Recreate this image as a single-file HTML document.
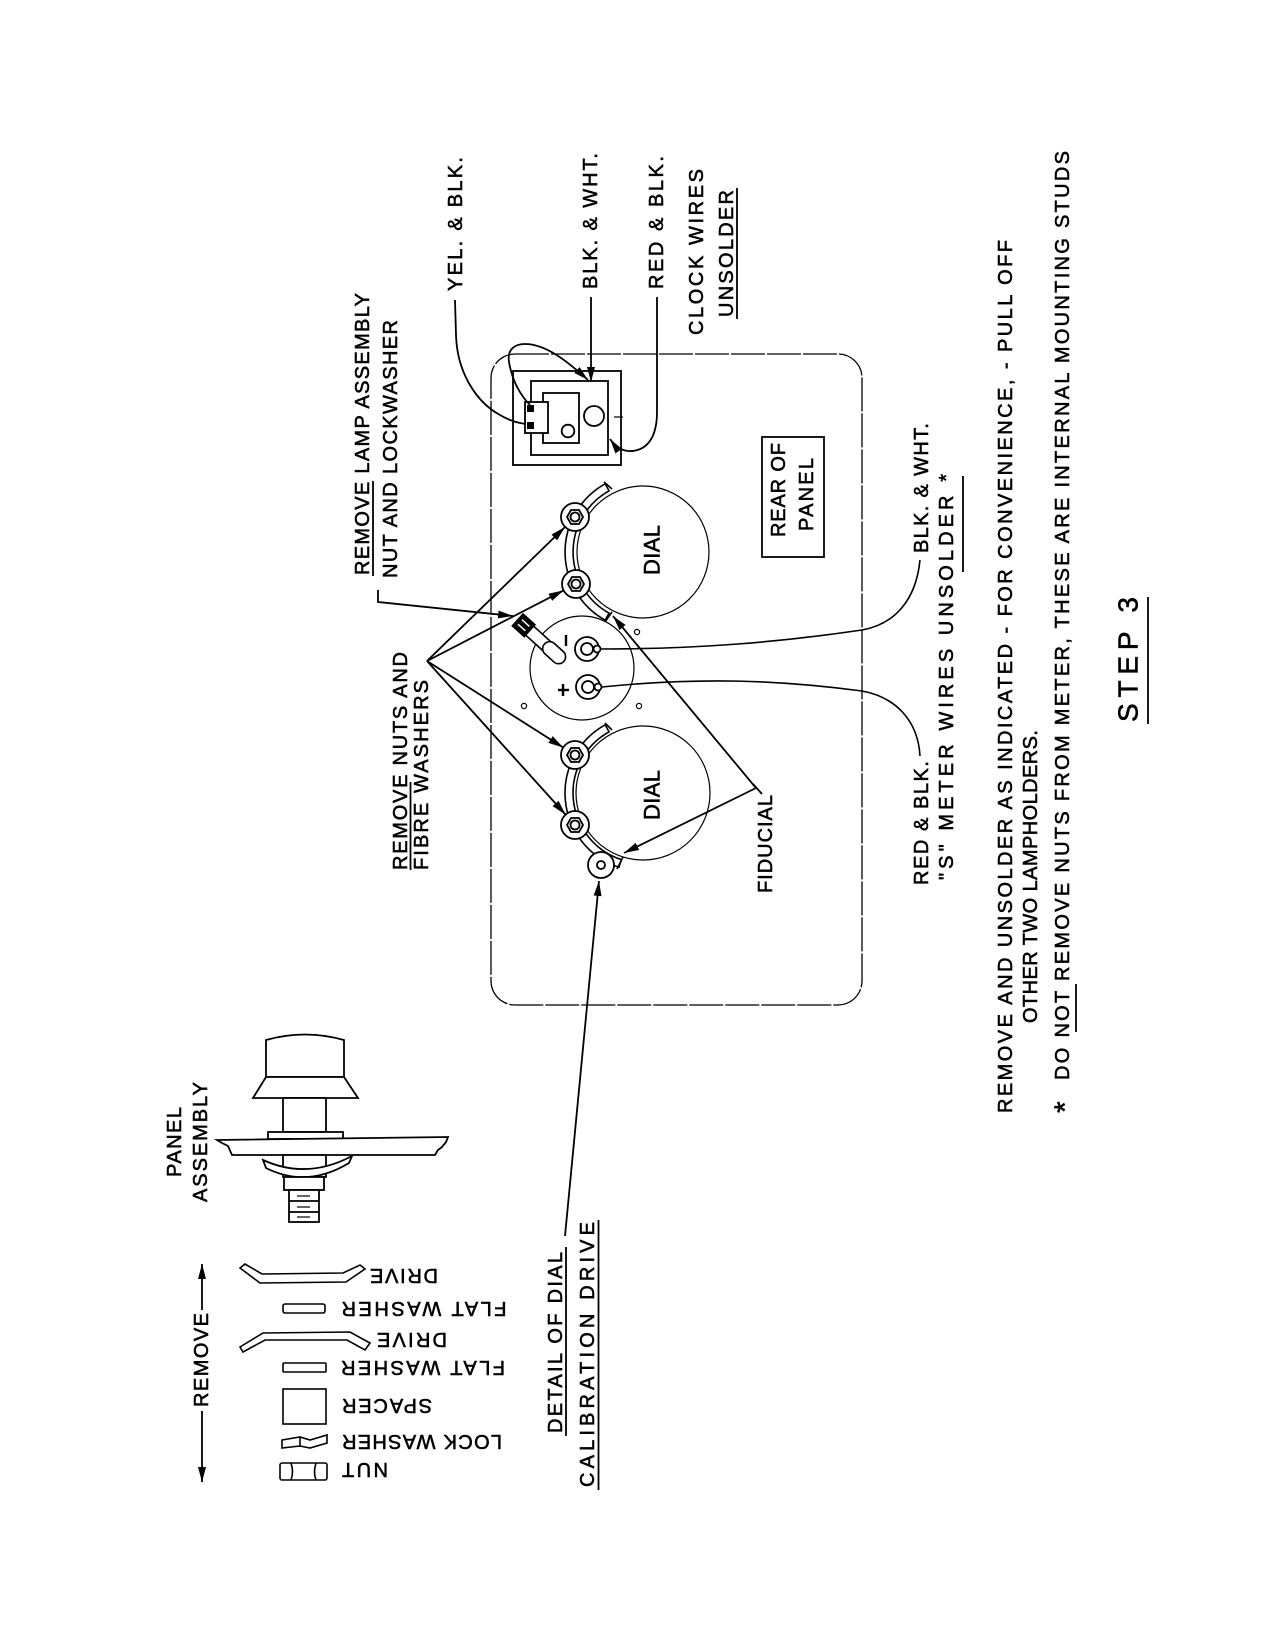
<!DOCTYPE html>
<html><head><meta charset="utf-8"><style>
html,body{margin:0;padding:0;background:#fff;}
svg{display:block;}
text{font-family:"Liberation Sans",sans-serif;fill:#000;stroke:#000;stroke-width:0.55;}
</style></head><body>
<svg width="1275" height="1650" viewBox="0 0 1275 1650" xmlns="http://www.w3.org/2000/svg">
<defs>
<marker id="a" markerWidth="16" markerHeight="10" refX="15" refY="5" orient="auto" markerUnits="userSpaceOnUse"><path d="M0,1 L15,5 L0,9 Z" fill="#000"/></marker>
</defs>
<rect width="1275" height="1650" fill="#fff"/>

<!-- Panel outline -->
<rect x="491" y="354" width="371" height="651" rx="24" ry="24" fill="none" stroke="#000" stroke-width="1.3" stroke-dasharray="34 2"/>

<g fill="none" stroke="#000" stroke-width="1.8">
<!-- Clock box -->
<rect x="513" y="371" width="108" height="94" fill="#fff"/>
<rect x="531" y="381" width="77" height="74"/>
<rect x="543" y="393" width="36" height="50"/>
<rect x="525" y="402" width="23" height="31" fill="#fff"/>
<circle cx="594" cy="416" r="10"/>
<circle cx="568" cy="431" r="6.3"/>
<line x1="614" y1="417" x2="623" y2="417" stroke-width="1.2"/>
</g>
<rect x="527" y="405" width="7" height="7" fill="#000"/>
<rect x="527" y="422" width="7" height="7" fill="#000"/>

<!-- clock wires -->
<g fill="none" stroke="#000" stroke-width="1.8">
<path d="M455,300 L456,335 C457,372 476,402 500,415 C510,421 518,423 526,424"/>
<path d="M530,405 C520,395 512,380 509,362 C507,349 515,344 525,344 C545,344 566,360 588,380" marker-end="url(#a)"/>
<line x1="591" y1="297" x2="591" y2="382" marker-end="url(#a)"/>
<path d="M657,297 L657,412 C657,440 645,452 628,451 C620,450 615,446 610,439" marker-end="url(#a)"/>
</g>

<!-- Dials -->
<g fill="none" stroke="#000" stroke-width="1.2">
<circle cx="643" cy="552" r="66"/>
<circle cx="643" cy="793" r="67"/>
<circle cx="582" cy="668" r="52"/>
</g>
<!-- drive bands -->
<g fill="#fff" stroke="#000" stroke-width="1.6">
<path d="M605.2,483.8 A78,78 0 0 0 605.2,620.2 L609.1,613.2 A70,70 0 0 1 609.1,490.8 Z"/>
<path d="M605.2,724.8 A78,78 0 0 0 618.9,867.2 L621.4,859.6 A70,70 0 0 1 609.1,731.8 Z"/>
<line x1="604" y1="482" x2="612" y2="489"/>
<line x1="605" y1="622" x2="612" y2="612"/>
<line x1="605" y1="723" x2="612" y2="730"/>
<line x1="617" y1="869" x2="623" y2="857"/>
</g>
<!-- nuts -->
<g fill="#fff" stroke="#000" stroke-width="1.8">
<g transform="translate(575,517)"><circle r="14"/><polygon points="8,0 4,7 -4,7 -8,0 -4,-7 4,-7"/><circle r="4.5"/></g>
<g transform="translate(576,584)"><circle r="14"/><polygon points="8,0 4,7 -4,7 -8,0 -4,-7 4,-7"/><circle r="4.5"/></g>
<g transform="translate(575,755)"><circle r="14"/><polygon points="8,0 4,7 -4,7 -8,0 -4,-7 4,-7"/><circle r="4.5"/></g>
<g transform="translate(575,825)"><circle r="14"/><polygon points="8,0 4,7 -4,7 -8,0 -4,-7 4,-7"/><circle r="4.5"/></g>
<circle cx="601" cy="865" r="13"/><circle cx="601" cy="865" r="4"/>
<!-- meter terminals -->
<circle cx="587" cy="649" r="12"/><circle cx="587" cy="649" r="6"/><circle cx="597" cy="649" r="3.5"/>
<circle cx="588" cy="687" r="12"/><circle cx="588" cy="687" r="6"/><circle cx="598" cy="687" r="3.5"/>
</g>
<g fill="none" stroke="#000" stroke-width="1.2">
<circle cx="637" cy="632" r="2.6"/>
<circle cx="524" cy="706" r="2.6"/>
<circle cx="639" cy="706" r="2.6"/>
</g>
<g stroke="#000" stroke-width="2.4">
<line x1="566" y1="635" x2="566" y2="646"/>
<line x1="558" y1="690" x2="569" y2="690"/><line x1="563" y1="684" x2="563" y2="696"/>
</g>
<!-- lamp holder -->
<g transform="translate(540,640) rotate(42)" stroke="#000" stroke-width="1.6">
<rect x="-30" y="-8" width="16" height="16" fill="#000"/>
<line x1="-27" y1="-3" x2="-17" y2="-3" stroke="#fff" stroke-width="1.5"/>
<line x1="-27" y1="3" x2="-17" y2="3" stroke="#fff" stroke-width="1.5"/>
<rect x="-14" y="-6" width="22" height="12" fill="#fff"/>
<rect x="6" y="-7" width="26" height="14" rx="7" fill="#fff"/>
</g>

<!-- meter wires -->
<g fill="none" stroke="#000" stroke-width="1.6">
<path d="M601,649 C700,649 780,642 862,630 C895,624 916,600 920,560"/>
<path d="M602,687 C700,677 780,680 862,691 C895,697 918,720 920,756"/>
</g>

<!-- leaders -->
<g fill="none" stroke="#000" stroke-width="1.8">
<line x1="427" y1="661" x2="565" y2="527" marker-end="url(#a)"/>
<line x1="427" y1="661" x2="563.6" y2="590.4" marker-end="url(#a)"/>
<line x1="427" y1="661" x2="563.2" y2="747.5" marker-end="url(#a)"/>
<line x1="427" y1="661" x2="565.6" y2="814.6" marker-end="url(#a)"/>
<polyline points="378,590 378,602 513,616" marker-end="url(#a)"/>
<line x1="756" y1="788" x2="613" y2="616" marker-end="url(#a)"/>
<line x1="756" y1="788" x2="624" y2="853" marker-end="url(#a)"/>
<line x1="753" y1="784" x2="762" y2="794"/>
<line x1="565" y1="1236" x2="599" y2="881" marker-end="url(#a)"/>
<line x1="202" y1="1310" x2="202" y2="1264" marker-end="url(#a)"/>
<line x1="202" y1="1411" x2="202" y2="1482" marker-end="url(#a)"/>
</g>

<!-- REAR OF PANEL box -->
<rect x="762" y="437" width="62" height="120" fill="none" stroke="#000" stroke-width="1.8"/>

<!-- underlines -->
<g stroke="#000" stroke-width="1.8">
<line x1="373" y1="481" x2="373" y2="576"/>
<line x1="737" y1="188" x2="737" y2="319"/>
<line x1="410.5" y1="782" x2="410.5" y2="870"/>
<line x1="963" y1="476" x2="963" y2="572"/>
<line x1="1076" y1="984" x2="1076" y2="1032"/>
<line x1="1148" y1="597" x2="1148" y2="724"/>
<line x1="566" y1="1247" x2="566" y2="1436"/>
<line x1="598.5" y1="1220" x2="598.5" y2="1490"/>
</g>

<!-- Panel assembly -->
<g fill="#fff" stroke="#000" stroke-width="1.8">
<path d="M266,1077 L266,1040 Q305,1029 344,1040 L344,1077 Z"/>
<path d="M266,1077 L344,1077 L358,1098 L253,1098 Z"/>
<rect x="283" y="1098" width="43" height="34"/>
<rect x="268" y="1132" width="75" height="7"/>
<path d="M217,1140 L448,1137 L446,1142 L442,1147 L438,1150 L435,1155 L232,1155 L228,1146 L222,1143 Z"/>
<rect x="283" y="1155" width="43" height="22"/>
<path d="M263,1160 Q307,1180 352,1156 L349,1163 Q307,1188.5 266,1168 Z"/>
<rect x="284" y="1177" width="40" height="13"/>
<rect x="289" y="1190" width="30" height="32"/>
<line x1="289" y1="1201" x2="319" y2="1201"/>
<line x1="289" y1="1212" x2="319" y2="1212"/>
<line x1="297" y1="1196" x2="310" y2="1196" stroke-width="1.2"/>
<line x1="297" y1="1207" x2="310" y2="1207" stroke-width="1.2"/>
<line x1="297" y1="1217" x2="310" y2="1217" stroke-width="1.2"/>
</g>

<!-- Parts list shapes -->
<g fill="#fff" stroke="#000" stroke-width="1.6">
<polygon points="240,1268 245,1264 262,1274 343,1273 360,1265 365,1269 346,1282 260,1283"/>
<rect x="283" y="1304" width="42" height="9" rx="2"/>
<polygon points="240,1347 263,1333 350,1332 370,1343 365,1350 347,1340 265,1340 243,1352"/>
<rect x="283" y="1363" width="43" height="9" rx="1"/>
<rect x="283" y="1389" width="43" height="35"/>
<path d="M282,1440 L300,1437 L310,1440 L327,1435 L327,1443 L310,1448 L300,1446 L282,1448 Z"/>
<line x1="300" y1="1437" x2="300" y2="1446"/>
<rect x="280" y="1463" width="47" height="17" rx="2"/>
<path d="M291,1463 Q294,1472 291,1480"/>
<path d="M316,1463 Q313,1472 316,1480"/>
</g>

<!-- Rotated labels (read bottom to top) -->
<g font-size="20">
<text transform="translate(368.9,575) rotate(-90)" textLength="282" lengthAdjust="spacing">REMOVE  LAMP ASSEMBLY</text>
<text transform="translate(396.9,578) rotate(-90)" textLength="258" lengthAdjust="spacing">NUT AND LOCKWASHER</text>
<text transform="translate(461.9,291) rotate(-90)" textLength="134" lengthAdjust="spacing">YEL. &amp; BLK.</text>
<text transform="translate(596.9,289) rotate(-90)" textLength="136" lengthAdjust="spacing">BLK. &amp; WHT.</text>
<text transform="translate(662.9,289) rotate(-90)" textLength="133" lengthAdjust="spacing">RED &amp; BLK.</text>
<text transform="translate(702.9,335) rotate(-90)" textLength="166" lengthAdjust="spacing">CLOCK WIRES</text>
<text transform="translate(732.9,317) rotate(-90)" textLength="127" lengthAdjust="spacing">UNSOLDER</text>
<text transform="translate(784.9,537) rotate(-90)" textLength="94" lengthAdjust="spacing">REAR OF</text>
<text transform="translate(812.9,531) rotate(-90)" textLength="73" lengthAdjust="spacing">PANEL</text>
<text transform="translate(406.9,870) rotate(-90)" textLength="218" lengthAdjust="spacing">REMOVE NUTS AND</text>
<text transform="translate(427.9,870) rotate(-90)" textLength="190" lengthAdjust="spacing">FIBRE WASHERS</text>
<text transform="translate(771.9,893) rotate(-90)" textLength="98" lengthAdjust="spacing">FIDUCIAL</text>
<text transform="translate(927.9,553) rotate(-90)" textLength="130" lengthAdjust="spacing">BLK. &amp; WHT.</text>
<text transform="translate(927.9,885) rotate(-90)" textLength="124" lengthAdjust="spacing">RED &amp; BLK.</text>
<text transform="translate(952.9,880) rotate(-90)" textLength="406" lengthAdjust="spacing">"S" METER WIRES UNSOLDER *</text>
<text transform="translate(1011.9,1113) rotate(-90)" textLength="873" lengthAdjust="spacing">REMOVE  AND UNSOLDER AS INDICATED - FOR CONVENIENCE, - PULL OFF</text>
<text transform="translate(1036.9,1023) rotate(-90)" textLength="293" lengthAdjust="spacing">OTHER TWO LAMPHOLDERS.</text>
<text transform="translate(1068.9,1080) rotate(-90)" textLength="929" lengthAdjust="spacing">DO NOT REMOVE NUTS FROM METER, THESE ARE INTERNAL MOUNTING STUDS</text>
<text transform="translate(180.9,1177) rotate(-90)" textLength="70" lengthAdjust="spacing">PANEL</text>
<text transform="translate(206.9,1202) rotate(-90)" textLength="120" lengthAdjust="spacing">ASSEMBLY</text>
<text transform="translate(207.9,1407) rotate(-90)" textLength="94" lengthAdjust="spacing">REMOVE</text>
<text transform="translate(561.9,1433) rotate(-90)" textLength="181" lengthAdjust="spacing">DETAIL OF DIAL</text>
<text transform="translate(593.9,1487) rotate(-90)" textLength="265" lengthAdjust="spacing">CALIBRATION  DRIVE</text>
</g>
<text font-size="30" transform="translate(1075,1113) rotate(-90)">*</text>
<g font-size="22">
<text transform="translate(659.6,575) rotate(-90)" textLength="50" lengthAdjust="spacing">DIAL</text>
<text transform="translate(659.6,820) rotate(-90)" textLength="50" lengthAdjust="spacing">DIAL</text>
</g>
<text font-size="28" transform="translate(1137.6,722) rotate(-90)" textLength="125" lengthAdjust="spacing">STEP 3</text>

<!-- Parts labels (upside down) -->
<g font-size="20" text-anchor="middle">
<text transform="translate(404,1276) rotate(180)" x="0" y="6.9" textLength="68" lengthAdjust="spacing">DRIVE</text>
<text transform="translate(424,1309) rotate(180)" x="0" y="6.9" textLength="165" lengthAdjust="spacing">FLAT WASHER</text>
<text transform="translate(412,1340) rotate(180)" x="0" y="6.9" textLength="70" lengthAdjust="spacing">DRIVE</text>
<text transform="translate(423,1368) rotate(180)" x="0" y="6.9" textLength="164" lengthAdjust="spacing">FLAT WASHER</text>
<text transform="translate(387,1406) rotate(180)" x="0" y="6.9" textLength="90" lengthAdjust="spacing">SPACER</text>
<text transform="translate(422,1442) rotate(180)" x="0" y="6.9" textLength="160" lengthAdjust="spacing">LOCK WASHER</text>
<text transform="translate(365,1470) rotate(180)" x="0" y="6.9" textLength="46" lengthAdjust="spacing">NUT</text>
</g>
</svg>
</body></html>
